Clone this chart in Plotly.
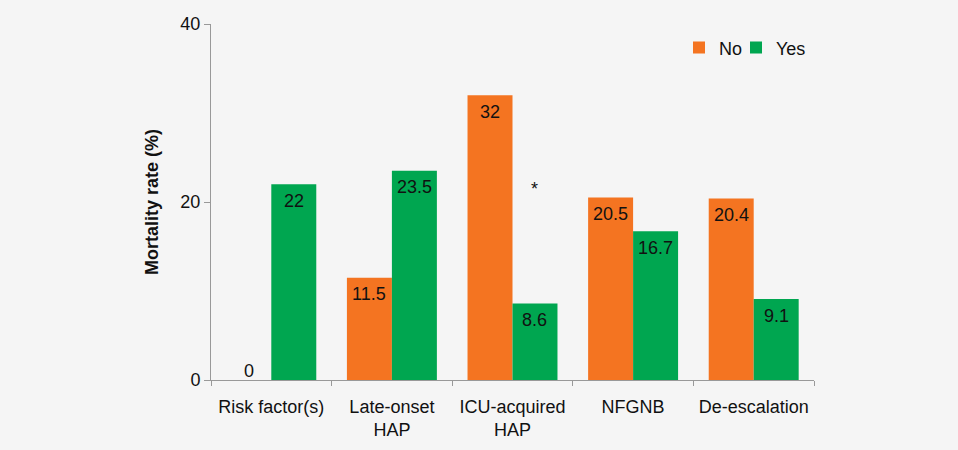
import plotly.graph_objects as go

categories = ["Risk factor(s)", "Late-onset<br>HAP", "ICU-acquired<br>HAP", "NFGNB", "De-escalation"]
no_values = [0, 11.5, 32, 20.5, 20.4]
yes_values = [22, 23.5, 8.6, 16.7, 9.1]
y_ticks = [0, 20, 40]
star_category = "ICU-acquired<br>HAP"
star_value = 22

orange = "#f47421"
green = "#00a650"
bg = "#f5f5f5"
FONT = "Liberation Sans, Arial, sans-serif"

L, R, T, B = 211, 144, 24, 70
W, H = 958, 450
BARGAP = 0.254
plot_w = W - L - R
cat_px = plot_w / len(categories)
bar_px = cat_px * (1 - BARGAP) / 2

fig = go.Figure()
fig.add_trace(go.Bar(name="No", x=categories, y=no_values, marker_color=orange,
                     marker_line_width=0, hoverinfo="x+y", legend="legend"))
fig.add_trace(go.Bar(name="Yes", x=categories, y=yes_values, marker_color=green,
                     marker_line_width=0, hoverinfo="x+y", legend="legend2"))

# value labels, anchored to the bars through the data axes
for vals, side in ((no_values, -1), (yes_values, 1)):
    for c, v in zip(categories, vals):
        fig.add_annotation(
            x=c, y=v, text=f"{v:g}", showarrow=False,
            xshift=side * bar_px / 2, yanchor="middle",
            yshift=9 if v == 0 else -16.5,
            font=dict(size=18, color="#111", family=FONT),
        )

fig.add_annotation(x=star_category, y=star_value, text="*", showarrow=False,
                   xshift=bar_px / 2, yshift=-5, yanchor="middle",
                   font=dict(size=18, color="#111", family=FONT))

leg_common = dict(orientation="h", xanchor="left", y=0.985, yanchor="top",
                  font=dict(size=18), bgcolor="rgba(0,0,0,0)", itemwidth=30)

fig.update_layout(
    width=W, height=H,
    margin=dict(l=L, r=R, t=T, b=B, autoexpand=False),
    paper_bgcolor=bg, plot_bgcolor=bg,
    barmode="group", bargap=BARGAP, bargroupgap=0,
    font=dict(family=FONT, size=18, color="#111"),
    showlegend=True,
    legend=dict(x=(679 - L) / plot_w, **leg_common),
    legend2=dict(x=(736 - L) / plot_w, **leg_common),
)
fig.update_xaxes(
    showline=True, linecolor="#999", linewidth=1, automargin=False,
    ticks="outside", tickson="boundaries", ticklen=5, tickcolor="#999",
    showgrid=False, tickfont=dict(size=18, color="#111"),
    ticklabelstandoff=10,
)
fig.update_yaxes(
    range=[0, 40], tickvals=y_ticks, showline=True, linecolor="#999", linewidth=1,
    automargin=False,
    ticks="outside", ticklen=6, tickcolor="#999", showgrid=False, zeroline=False,
    tickfont=dict(size=18, color="#111"),
    title=dict(text="<b>Mortality rate (%)</b>", font=dict(size=18, color="#111"), standoff=17),
)

fig.write_html("out.html")
